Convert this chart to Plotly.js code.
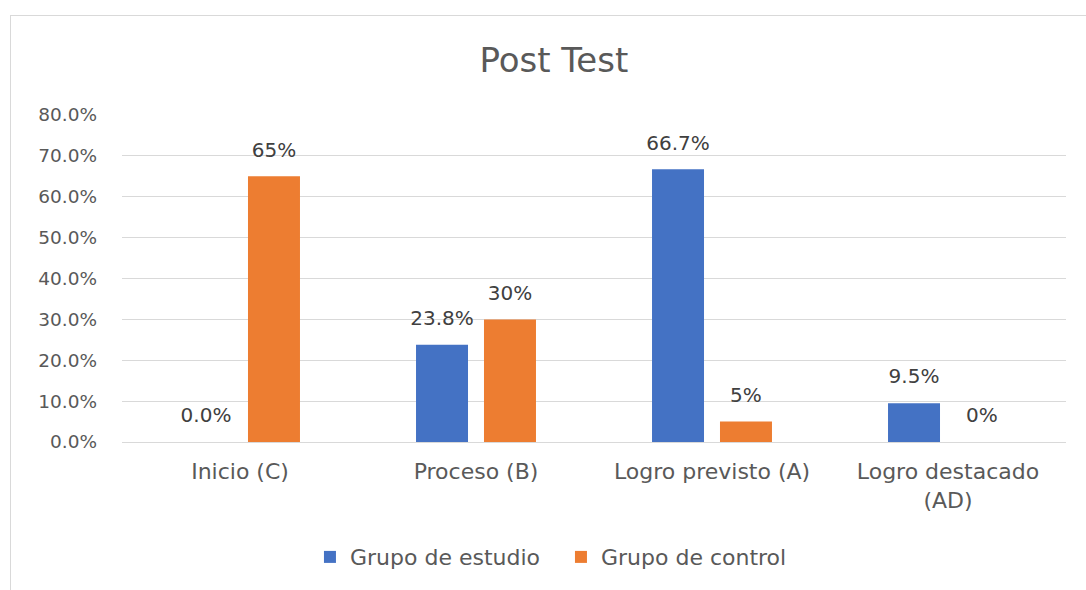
<!DOCTYPE html>
<html>
<head>
<meta charset="utf-8">
<script src="https://cdn.plot.ly/plotly-3.0.1.min.js"></script>
<style>
body{margin:0;padding:0;background:#fff;overflow:hidden;}
#frame{position:absolute;left:10px;top:15px;width:1100px;height:600px;border:1px solid #d9d9d9;box-sizing:border-box;}
#chart{position:absolute;left:0;top:0;width:1086px;height:590px;}
</style>
</head>
<body>
<div id="frame"></div>
<div id="chart"></div>
<script>
const categories = ["Inicio (C)", "Proceso (B)", "Logro previsto (A)", "Logro destacado<br>(AD)"];
const estudio = [0.0, 0.238, 0.667, 0.095];
const control = [0.65, 0.30, 0.05, 0.0];
const estudioLabels = ["0.0%", "23.8%", "66.7%", "9.5%"];
const controlLabels = ["65%", "30%", "5%", "0%"];
const yTicks = [0, 0.1, 0.2, 0.3, 0.4, 0.5, 0.6, 0.7, 0.8];

const fam = "DejaVu Sans, sans-serif";
const font = {family: fam, color: "#595959"};
const labelFont = {family: fam, color: "#404040", size: 20};

const traces = [
  {type: "bar", name: "Grupo de estudio", x: categories, y: estudio, offsetgroup: "1",
   marker: {color: "#4472C4"}, hoverinfo: "skip"},
  {type: "bar", name: "Grupo de control", x: categories, y: control, offsetgroup: "2",
   marker: {color: "#ED7D31"}, hoverinfo: "skip"},
  {type: "scatter", mode: "markers+text", x: categories, y: estudio, text: estudioLabels,
   offsetgroup: "1", textposition: "top center", marker: {size: 22, opacity: 0},
   textfont: labelFont, cliponaxis: false, showlegend: false, hoverinfo: "skip"},
  {type: "scatter", mode: "markers+text", x: categories, y: control, text: controlLabels,
   offsetgroup: "2", textposition: "top center", marker: {size: 22, opacity: 0},
   textfont: labelFont, cliponaxis: false, showlegend: false, hoverinfo: "skip"}
];

const layout = {
  width: 1086, height: 590,
  margin: {l: 122, r: 20, t: 115, b: 148},
  paper_bgcolor: "rgba(0,0,0,0)", plot_bgcolor: "rgba(0,0,0,0)",
  font: font,
  title: {text: "Post Test", x: 0.51, xanchor: "center", y: 0.898, yanchor: "middle",
          font: {family: fam, size: 34, color: "#595959"}},
  barmode: "group", bargap: 0.424, bargroupgap: 0.235,
  scattermode: "group", scattergap: 0.424,
  xaxis: {type: "category", showgrid: false, showline: false, ticks: "", zeroline: false,
          tickfont: {size: 22, color: "#595959"}, ticklabelstandoff: 14},
  yaxis: {range: [0, 0.8], tickvals: yTicks, tickformat: ".1%", showgrid: true,
          gridcolor: "#d9d9d9", gridwidth: 1, zeroline: true, zerolinecolor: "#d9d9d9",
          zerolinewidth: 1, showline: false, ticks: "", tickfont: {size: 18.5, color: "#595959"},
          ticklabelstandoff: 24},
  showlegend: true,
  legend: {orientation: "h", x: 0.465, xanchor: "center", y: -0.352, yanchor: "middle",
           font: {size: 22, color: "#595959"}, itemwidth: 30, traceorder: "normal",
           entrywidth: 206, entrywidthmode: "pixels"}
};

Plotly.newPlot("chart", traces, layout, {staticPlot: true, displayModeBar: false});
</script>
</body>
</html>
